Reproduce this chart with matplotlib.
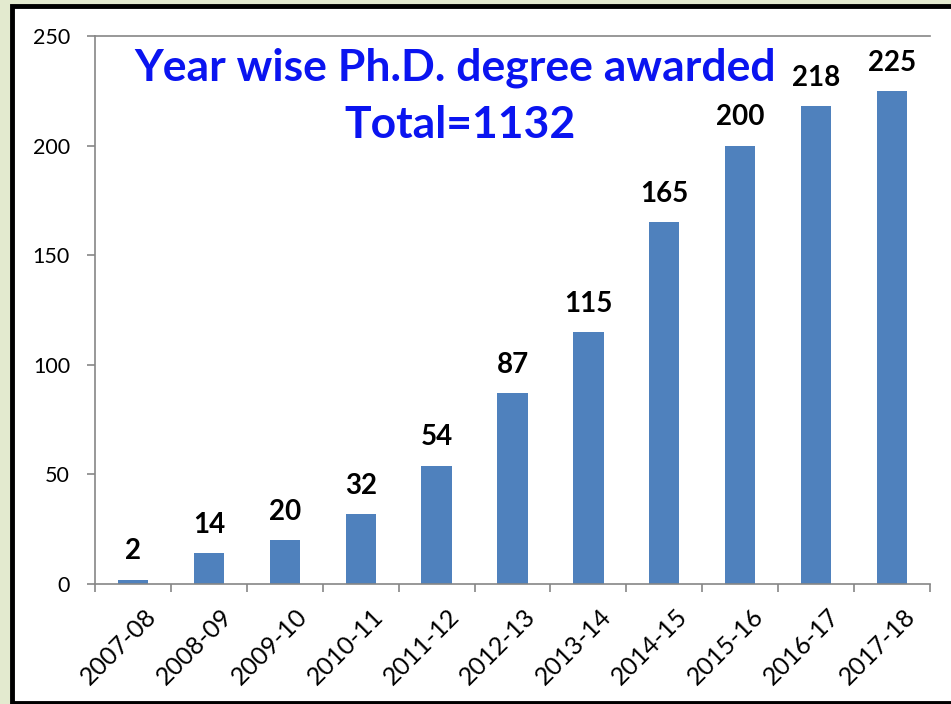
import matplotlib.pyplot as plt
import matplotlib.transforms as mtransforms
from matplotlib.patches import Rectangle

plt.rcParams["font.family"] = ["Lato", "DejaVu Sans"]

YEARS = ["2007-08", "2008-09", "2009-10", "2010-11", "2011-12", "2012-13",
         "2013-14", "2014-15", "2015-16", "2016-17", "2017-18"]
PHD = [2, 14, 20, 32, 54, 87, 115, 165, 200, 218, 225]
Y_TICKS = [0, 50, 100, 150, 200, 250]

BAR = "#4F81BD"
AXIS = "#868686"
TITLE_BLUE = "#0A14F0"

fig = plt.figure(figsize=(9.51, 7.04), dpi=100, facecolor="#E3EACF")

# white panel with black frame
W, H = 951, 704
fig.patches.append(Rectangle((12 / W, 1 - 703 / H), 960 / W, 697 / H,
                             transform=fig.transFigure, facecolor="white",
                             edgecolor="black", linewidth=3.5, zorder=-1))

ax = fig.add_axes([95 / W, 1 - 584 / H, 835 / W, 548 / H])
ax.set_facecolor("none")

x = range(len(YEARS))
ax.bar(x, PHD, width=0.4, color=BAR, zorder=2)

for i, v in zip(x, PHD):
    ax.annotate(str(v), xy=(i, v), xytext=(0, 11), textcoords="offset points",
                ha="center", va="bottom", fontsize=20, fontweight="bold",
                color="black")

ax.set_xlim(-0.5, len(YEARS) - 0.5)
ax.set_ylim(0, 250)
ax.set_yticks(Y_TICKS)
ax.tick_params(axis="y", length=6, width=1.2, color=AXIS, pad=12,
               labelsize=15.5, direction="out")
ax.axhline(250, color=AXIS, linewidth=1.2, zorder=1, clip_on=False)

ax.set_xticks([i - 0.5 for i in range(len(YEARS) + 1)], minor=False)
ax.set_xticklabels([])
ax.set_xticks(list(x), minor=True)
ax.set_xticklabels(YEARS, minor=True, rotation=45, ha="right", va="top",
                   rotation_mode="anchor", fontsize=18)
ax.tick_params(axis="x", which="major", length=6, width=1.2, color=AXIS,
               direction="out")
ax.tick_params(axis="x", which="minor", length=0, pad=15)
shift = mtransforms.ScaledTranslation(8 / 72, 0, fig.dpi_scale_trans)
for lbl in ax.get_xticklabels(minor=True):
    lbl.set_transform(lbl.get_transform() + shift)

for s in ("top", "right"):
    ax.spines[s].set_visible(False)
for s in ("left", "bottom"):
    ax.spines[s].set_color(AXIS)
    ax.spines[s].set_linewidth(1.2)

fig.text(455 / W, 1 - 68 / H, "Year wise Ph.D. degree awarded", ha="center",
         va="center", fontsize=32, fontweight="bold", color=TITLE_BLUE)
fig.text(460 / W, 1 - 125 / H, "Total=1132", ha="center", va="center",
         fontsize=32, fontweight="bold", color=TITLE_BLUE)

fig.savefig("out.png", dpi=100, facecolor=fig.get_facecolor())
